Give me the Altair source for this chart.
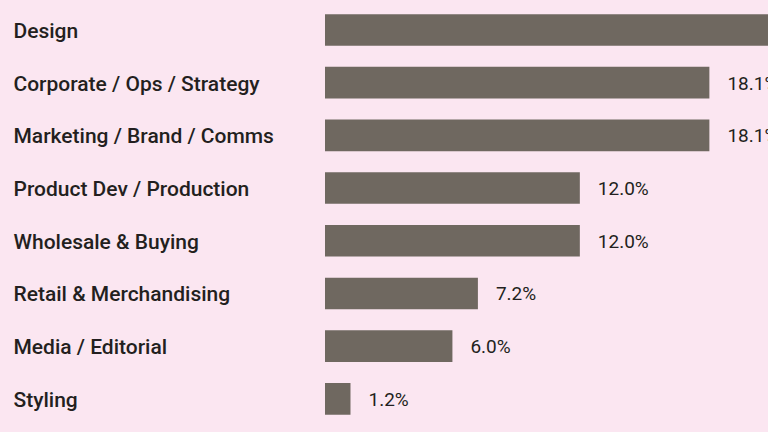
import altair as alt
import pandas as pd

categories = ["Design", "Corporate / Ops / Strategy", "Marketing / Brand / Comms",
              "Product Dev / Production", "Wholesale & Buying",
              "Retail & Merchandising", "Media / Editorial", "Styling"]
shares = [25.3, 18.1, 18.1, 12.0, 12.0, 7.2, 6.0, 1.2]
labels = ["25.3%", "18.1%", "18.1%", "12.0%", "12.0%", "7.2%", "6.0%", "1.2%"]

df = pd.DataFrame({"category": categories, "share": shares, "label": labels})

FONT = "Roboto"
BG = "#fbe6f1"
BAR = "#6f6860"

y = alt.Y("category:N", sort=categories,
          scale=alt.Scale(paddingInner=0.4, paddingOuter=0.2),
          axis=alt.Axis(title=None, domain=False, ticks=False, labelAlign="left",
                        labelPadding=312, labelOffset=2, labelFont=FONT,
                        labelFontSize=21, labelFontWeight=500,
                        labelColor="#231f20", labelLimit=0))
x = alt.X("share:Q", stack=None,
          scale=alt.Scale(domain=[0, 20.86], nice=False, zero=True),
          axis=None)

bars = alt.Chart(df).mark_bar(color=BAR, clip=True).encode(x=x, y=y)
text = alt.Chart(df).mark_text(align="left", baseline="middle", dx=18, dy=1,
                               font=FONT, fontSize=19, color="#231f20",
                               clip=True).encode(
    x=x, y=alt.Y("category:N", sort=categories), text="label:N")

chart = (bars + text).properties(
    width=443, height=421.6, background=BG,
    padding={"left": 325, "top": 3.6, "right": 0, "bottom": 7},
    autosize="none"
).configure_view(stroke=None)

chart.save("out.html", embed_options={"renderer": "svg", "actions": False})
